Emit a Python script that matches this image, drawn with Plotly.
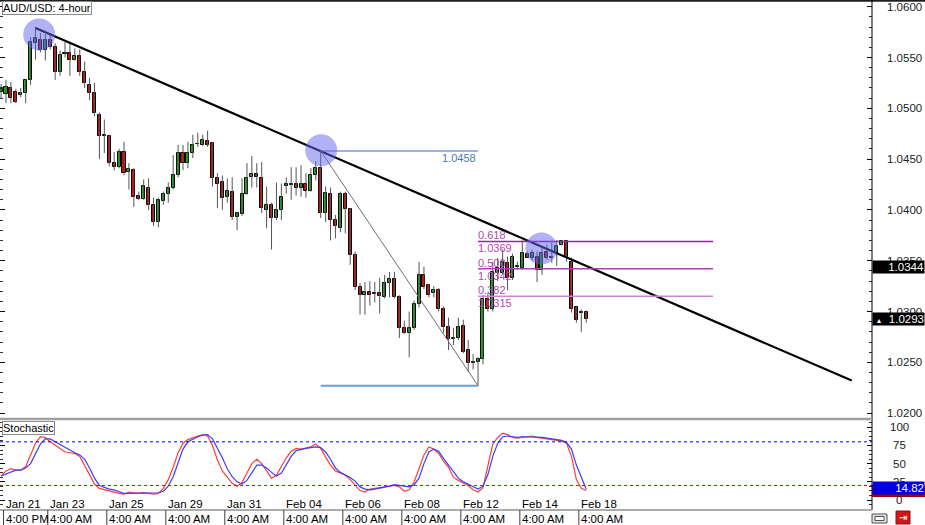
import plotly.graph_objects as go

# ---------------- data ----------------
bar_idx = list(range(-1, 119))
opens = [1.0516, 1.0514, 1.0520, 1.0516, 1.0513, 1.0515, 1.0528, 1.0564, 1.0567, 1.0557,
         1.0567, 1.0560, 1.0536, 1.0553, 1.0554, 1.0548, 1.0551, 1.0536, 1.0523, 1.0515,
         1.0493, 1.0473, 1.0473, 1.0446, 1.0442, 1.0457, 1.0437, 1.0439, 1.0414, 1.0411,
         1.0422, 1.0405, 1.0388, 1.0409, 1.0416, 1.0422, 1.0434, 1.0456, 1.0446, 1.0456,
         1.0465, 1.0464, 1.0468, 1.0466, 1.0431, 1.0427, 1.0413, 1.0418, 1.0393, 1.0396,
         1.0416, 1.0432, 1.0435, 1.0431, 1.0400, 1.0405, 1.0392, 1.0400, 1.0424, 1.0425,
         1.0426, 1.0422, 1.0426, 1.0419, 1.0434, 1.0441, 1.0397, 1.0416, 1.0390, 1.0382,
         1.0416, 1.0401, 1.0356, 1.0324, 1.0316, 1.0319, 1.0317, 1.0318, 1.0314, 1.0328,
         1.0332, 1.0314, 1.0284, 1.0279, 1.0284, 1.0307, 1.0336, 1.0326, 1.0318, 1.0321,
         1.0302, 1.0285, 1.0274, 1.0274, 1.0286, 1.0262, 1.0249, 1.0250, 1.0253, 1.0312,
         1.0302, 1.0338, 1.0338, 1.0348, 1.0333, 1.0344, 1.0343, 1.0357, 1.0353, 1.0354,
         1.0341, 1.0359, 1.0353, 1.0358, 1.0365, 1.0369, 1.0349, 1.0304, 1.0299, 1.0300]
highs = [1.0524, 1.0528, 1.0526, 1.0519, 1.0520, 1.0529, 1.0570, 1.0580, 1.0574, 1.0573,
         1.0574, 1.0564, 1.0557, 1.0565, 1.0564, 1.0559, 1.0558, 1.0546, 1.0530, 1.0525,
         1.0496, 1.0489, 1.0474, 1.0457, 1.0460, 1.0467, 1.0446, 1.0441, 1.0418, 1.0430,
         1.0431, 1.0412, 1.0412, 1.0418, 1.0427, 1.0454, 1.0464, 1.0464, 1.0467, 1.0474,
         1.0476, 1.0474, 1.0478, 1.0467, 1.0436, 1.0434, 1.0431, 1.0432, 1.0398, 1.0431,
         1.0446, 1.0453, 1.0446, 1.0447, 1.0423, 1.0407, 1.0427, 1.0426, 1.0432, 1.0442,
         1.0442, 1.0444, 1.0436, 1.0441, 1.0448, 1.0458, 1.0423, 1.0422, 1.0395, 1.0418,
         1.0418, 1.0402, 1.0359, 1.0328, 1.0329, 1.0330, 1.0329, 1.0333, 1.0336, 1.0339,
         1.0339, 1.0316, 1.0291, 1.0300, 1.0311, 1.0349, 1.0344, 1.0327, 1.0325, 1.0323,
         1.0305, 1.0294, 1.0284, 1.0294, 1.0292, 1.0272, 1.0258, 1.0255, 1.0316, 1.0318,
         1.0349, 1.0353, 1.0361, 1.0354, 1.0357, 1.0349, 1.0370, 1.0359, 1.0361, 1.0359,
         1.0363, 1.0366, 1.0368, 1.0370, 1.0370, 1.0370, 1.0353, 1.0305, 1.0302, 1.0301]
lows = [1.0510, 1.0505, 1.0505, 1.0505, 1.0511, 1.0505, 1.0523, 1.0548, 1.0555, 1.0547,
        1.0558, 1.0528, 1.0532, 1.0550, 1.0532, 1.0547, 1.0532, 1.0520, 1.0508, 1.0492,
        1.0450, 1.0456, 1.0443, 1.0439, 1.0441, 1.0434, 1.0420, 1.0403, 1.0410, 1.0410,
        1.0400, 1.0384, 1.0383, 1.0405, 1.0407, 1.0420, 1.0432, 1.0439, 1.0441, 1.0451,
        1.0462, 1.0463, 1.0462, 1.0423, 1.0402, 1.0400, 1.0407, 1.0390, 1.0380, 1.0394,
        1.0415, 1.0422, 1.0422, 1.0397, 1.0382, 1.0361, 1.0390, 1.0390, 1.0416, 1.0410,
        1.0414, 1.0413, 1.0412, 1.0418, 1.0429, 1.0392, 1.0388, 1.0370, 1.0372, 1.0378,
        1.0377, 1.0346, 1.0321, 1.0297, 1.0297, 1.0306, 1.0309, 1.0298, 1.0313, 1.0314,
        1.0313, 1.0274, 1.0278, 1.0255, 1.0282, 1.0304, 1.0322, 1.0314, 1.0314, 1.0300,
        1.0279, 1.0262, 1.0267, 1.0272, 1.0259, 1.0241, 1.0243, 1.0227, 1.0248, 1.0300,
        1.0300, 1.0330, 1.0336, 1.0321, 1.0331, 1.0341, 1.0341, 1.0353, 1.0350, 1.0329,
        1.0336, 1.0351, 1.0348, 1.0345, 1.0365, 1.0349, 1.0299, 1.0289, 1.0280, 1.0289]
closes = [1.0519, 1.0521, 1.0510, 1.0506, 1.0515, 1.0528, 1.0565, 1.0569, 1.0557, 1.0567,
          1.0560, 1.0536, 1.0552, 1.0554, 1.0548, 1.0551, 1.0536, 1.0525, 1.0515, 1.0495,
          1.0473, 1.0474, 1.0446, 1.0442, 1.0457, 1.0436, 1.0440, 1.0413, 1.0411, 1.0424,
          1.0405, 1.0388, 1.0410, 1.0416, 1.0422, 1.0434, 1.0456, 1.0446, 1.0456, 1.0464,
          1.0465, 1.0469, 1.0464, 1.0431, 1.0426, 1.0412, 1.0419, 1.0393, 1.0397, 1.0416,
          1.0431, 1.0435, 1.0432, 1.0402, 1.0405, 1.0392, 1.0400, 1.0413, 1.0426, 1.0425,
          1.0422, 1.0426, 1.0419, 1.0434, 1.0441, 1.0397, 1.0417, 1.0390, 1.0384, 1.0416,
          1.0401, 1.0356, 1.0324, 1.0316, 1.0319, 1.0316, 1.0318, 1.0315, 1.0328, 1.0332,
          1.0314, 1.0284, 1.0279, 1.0284, 1.0307, 1.0336, 1.0324, 1.0316, 1.0321, 1.0302,
          1.0285, 1.0273, 1.0273, 1.0285, 1.0260, 1.0249, 1.0250, 1.0253, 1.0312, 1.0302,
          1.0339, 1.0343, 1.0349, 1.0333, 1.0354, 1.0345, 1.0358, 1.0353, 1.0358, 1.0341,
          1.0358, 1.0353, 1.0354, 1.0364, 1.0369, 1.0354, 1.0302, 1.0292, 1.0299, 1.0293]

stoch_main = [33, 40, 43, 41, 41, 46, 62, 78, 87, 86, 80, 75, 70, 66, 65, 64, 60, 47, 33, 22,
              16, 14, 12, 10, 9, 8, 11, 10, 9, 10, 9, 8, 9, 16, 28, 45, 65, 78, 83, 86,
              88, 90, 88, 75, 55, 40, 31, 23, 19, 24, 37, 50, 56, 50, 40, 30, 34, 46, 58, 67,
              71, 70, 71, 73, 77, 71, 59, 48, 40, 37, 34, 28, 20, 13, 11, 15, 16, 17, 18, 20,
              20, 18, 12, 14, 25, 43, 62, 73, 70, 64, 53, 45, 31, 27, 23, 20, 14, 11, 17, 48,
              77, 86, 92, 90, 86, 85, 86, 88, 88, 86, 85, 85, 84, 82, 81, 78, 60, 28, 16, 13]
stoch_signal = [33, 36, 39, 41, 41, 44, 50, 63, 77, 84, 84, 80, 76, 72, 68, 65, 62, 56, 44, 30,
                20, 17, 15, 14, 11, 9, 9, 9, 9, 9, 9, 9, 10, 12, 19, 32, 52, 70, 80, 84,
                87, 89, 90, 84, 72, 58, 43, 32, 25, 22, 27, 38, 48, 48, 44, 38, 33, 37, 48, 60,
                68, 70, 71, 72, 73, 72, 66, 56, 44, 38, 35, 31, 26, 18, 15, 14, 15, 16, 17, 19,
                21, 20, 18, 18, 21, 30, 50, 66, 70, 67, 57, 48, 38, 30, 25, 22, 19, 15, 19, 35,
                60, 78, 87, 88, 87, 86, 87, 87, 87, 86, 86, 85, 84, 83, 82, 79, 70, 48, 30, 14.82]
stoch_levels = [80, 20]
stoch_ticks = [100, 75, 50, 25, 0]
price_ticks = [1.0600, 1.0550, 1.0500, 1.0450, 1.0400, 1.0350, 1.0300, 1.0250, 1.0200]

trend_x = [6, 172]
trend_y = [1.0579, 1.0232]
swing_x = [64, 96]
swing_y = [1.0458, 1.0227]
fib_ratios = [0.618, 0.500, 0.382]
fib_prices = [1.0369, 1.0342, 1.0315]
fib_end = 143.8
circle_x = [6.75, 64.1, 108.9]
circle_y = [1.05726, 1.04587, 1.03620]

label_bars = [0, 9, 21, 33, 45, 57, 69, 81, 93, 105, 117]
label_dates = ["Jan 21", "Jan 23", "Jan 25", "Jan 29", "Jan 31", "Feb 04", "Feb 06",
               "Feb 08", "Feb 12", "Feb 14", "Feb 18"]
label_times = ["4:00 PM"] + ["4:00 AM"] * 10

price_marker_1 = 1.0344
last_price = 1.0293
stoch_last = "14.82"

# ---------------- geometry helpers (layout only) ----------------
PLOT_W = 872.0
PLOT_B = 510.0
def px_x(px):
    return px / PLOT_W
def px_y(py):
    return (PLOT_B - py) / PLOT_B

FONT = "Liberation Sans, Arial, sans-serif"
GREEN = "#00c000"
RED = "#e00000"

fig = go.Figure()

# wicks
wx, wy = [], []
for i, h, l in zip(bar_idx, highs, lows):
    wx += [i, i, None]
    wy += [l, h, None]
fig.add_trace(go.Scatter(x=wx, y=wy, mode="lines", line=dict(color="#555555", width=1),
                         hoverinfo="skip"))

# bodies
bases = [min(o, c) for o, c in zip(opens, closes)]
heights = [max(abs(c - o), 0.00003) for o, c in zip(opens, closes)]
cols = [GREEN if c >= o else RED for o, c in zip(opens, closes)]
fig.add_trace(go.Bar(x=bar_idx, y=heights, base=bases, width=0.62,
                     marker=dict(color=cols, line=dict(color="black", width=1))))

# trend line, swing line
fig.add_trace(go.Scatter(x=trend_x, y=trend_y, mode="lines",
                         line=dict(color="black", width=2.2)))
fig.add_trace(go.Scatter(x=swing_x, y=swing_y, mode="lines",
                         line=dict(color="#707070", width=1)))

# stochastic
fig.add_trace(go.Scatter(x=bar_idx, y=stoch_main, mode="lines", yaxis="y2",
                         line=dict(color="rgb(255,60,60)", width=1.2)))
fig.add_trace(go.Scatter(x=bar_idx, y=stoch_signal, mode="lines", yaxis="y2",
                         line=dict(color="rgb(60,60,255)", width=1.2)))

shapes = []
shapes.append(dict(type="line", xref="x", yref="y", x0=swing_x[0], x1=swing_x[1],
                   y0=swing_y[0], y1=swing_y[0], line=dict(color="#3d6fb0", width=1.2)))
shapes.append(dict(type="line", xref="x", yref="y", x0=swing_x[0], x1=swing_x[1],
                   y0=swing_y[1], y1=swing_y[1], line=dict(color="#6a9fd0", width=2)))
fib_cols = ["#a020a0", "#b040b0", "#cc88cc"]
for fp, fc in zip(fib_prices, fib_cols):
    shapes.append(dict(type="line", xref="x", yref="y", x0=swing_x[1], x1=fib_end,
                       y0=fp, y1=fp, line=dict(color=fc, width=1.5)))
for cx, cy in zip(circle_x, circle_y):
    shapes.append(dict(type="circle", xref="x", yref="y", xsizemode="pixel",
                       ysizemode="pixel", xanchor=cx, yanchor=cy, x0=-16, x1=16,
                       y0=-16, y1=16, fillcolor="rgba(100,100,235,0.5)",
                       line=dict(width=0)))
shapes.append(dict(type="line", xref="paper", yref="y2", x0=0, x1=1, y0=stoch_levels[0],
                   y1=stoch_levels[0], line=dict(color="#0000ff", width=1, dash="dot")))
shapes.append(dict(type="line", xref="paper", yref="y2", x0=0, x1=1, y0=stoch_levels[1],
                   y1=stoch_levels[1], line=dict(color="#e00000", width=1, dash="dot")))
shapes.append(dict(type="line", xref="paper", yref="paper", x0=0, x1=925 / PLOT_W,
                   y0=px_y(0.8), y1=px_y(0.8), line=dict(color="#202020", width=2)))
shapes.append(dict(type="line", xref="paper", yref="paper", x0=1, x1=1,
                   y0=px_y(510), y1=px_y(0), line=dict(color="black", width=1)))
shapes.append(dict(type="line", xref="paper", yref="paper", x0=0, x1=1,
                   y0=px_y(419), y1=px_y(419), line=dict(color="#a0a0a0", width=2.5)))
shapes.append(dict(type="line", xref="paper", yref="paper", x0=0, x1=1,
                   y0=px_y(510), y1=px_y(510), line=dict(color="#909090", width=1.5)))
for b in label_bars:
    shapes.append(dict(type="line", xref="x", yref="paper", x0=b - 0.5, x1=b - 0.5,
                       y0=px_y(510), y1=px_y(525), line=dict(color="#404040", width=1)))
shapes.append(dict(type="rect", xref="paper", yref="paper", x0=1, x1=925 / PLOT_W,
                   y0=px_y(497), y1=px_y(485), fillcolor="#a00000", line=dict(width=0)))
shapes.append(dict(type="rect", xref="paper", yref="paper", x0=px_x(872), x1=px_x(887),
                   y0=px_y(523), y1=px_y(514), fillcolor="#e0e0e0",
                   line=dict(color="#505050", width=1)))
shapes.append(dict(type="rect", xref="paper", yref="paper", x0=px_x(875), x1=px_x(884),
                   y0=px_y(520.5), y1=px_y(516.5), fillcolor="#ffffff",
                   line=dict(color="#505050", width=1)))
shapes.append(dict(type="rect", xref="paper", yref="paper", x0=px_x(896), x1=px_x(910),
                   y0=px_y(524), y1=px_y(511), fillcolor="#d01818",
                   line=dict(color="#901010", width=1)))

ann = []
def A(**kw):
    base = dict(showarrow=False, font=dict(family=FONT, size=11, color="black"))
    base.update(kw)
    ann.append(base)

A(text="AUD/USD: 4-hour", xref="paper", yref="paper", x=px_x(2), y=px_y(1),
  xanchor="left", yanchor="top", bgcolor="white", bordercolor="#8a8a8a", borderwidth=1,
  borderpad=0)
A(text="Stochastic", xref="paper", yref="paper", x=px_x(2), y=px_y(421),
  xanchor="left", yanchor="top", bgcolor="white", bordercolor="#8a8a8a", borderwidth=1,
  borderpad=0)

A(text="%.4f" % swing_y[0], xref="x", yref="y", x=swing_x[1], y=swing_y[0],
  xanchor="right", yanchor="top", font=dict(family=FONT, size=11, color="#4a78b8"),
  yshift=1)
for r, fp in zip(fib_ratios, fib_prices):
    A(text="%.3f" % r, xref="x", yref="y", x=swing_x[1], y=fp, xanchor="left",
      yanchor="bottom", font=dict(family=FONT, size=11, color="#b048b0"), yshift=-2,
      xshift=-2)
    A(text="%.4f" % fp, xref="x", yref="y", x=swing_x[1], y=fp, xanchor="left",
      yanchor="top", font=dict(family=FONT, size=11, color="#b048b0"), yshift=1,
      xshift=-2)

# price scale labels
for v in price_ticks:
    A(text="%.4f" % v, xref="paper", yref="y", x=px_x(885), y=v, xanchor="left",
      yanchor="middle", font=dict(family=FONT, size=11.5, color="#222"))
# stochastic scale labels
for v in stoch_ticks:
    A(text=str(v), xref="paper", yref="y2", x=px_x(899), y=v, xanchor="center",
      yanchor="middle", font=dict(family=FONT, size=11.5, color="#222"))

# value boxes on the right scale
A(text="%.4f" % price_marker_1, xref="paper", yref="y", x=1, y=price_marker_1,
  xanchor="left", yanchor="middle", bgcolor="black", width=51, height=12, align="right",
  borderpad=0, font=dict(family=FONT, size=11.5, color="white"))
A(text="<span style='font-size:7px'>▲</span>  %.4f" % last_price, xref="paper", yref="y",
  x=1, y=last_price, xanchor="left", yanchor="middle", bgcolor="black", width=51,
  height=12, align="right", borderpad=0, font=dict(family=FONT, size=11.5, color="white"))
A(text=stoch_last, xref="paper", yref="paper", x=1, y=px_y(488), xanchor="left",
  yanchor="middle", bgcolor="#0000e0", width=51, height=12, align="right", borderpad=0,
  font=dict(family=FONT, size=11.5, color="white"))
A(text="⇥", xref="paper", yref="paper", x=px_x(903), y=px_y(517.5), xanchor="center",
  yanchor="middle", font=dict(family="DejaVu Sans", size=10, color="white"))

# time scale labels
for b, d, t in zip(label_bars, label_dates, label_times):
    A(text=d, xref="x", yref="paper", x=b - 0.5, y=px_y(504), xanchor="left",
      yanchor="middle", font=dict(family=FONT, size=11.5, color="black"))
    A(text=t, xref="x", yref="paper", x=b - 0.5, y=px_y(518.5), xanchor="left",
      yanchor="middle", font=dict(family=FONT, size=11.5, color="black"))

fig.update_layout(
    width=925, height=525, margin=dict(l=0, r=53, t=0, b=15),
    paper_bgcolor="white", plot_bgcolor="white", showlegend=False, bargap=0,
    hovermode=False,
    xaxis=dict(range=[-1.22, 176.12], showticklabels=False, showgrid=False,
               zeroline=False, ticks="", showline=False, fixedrange=True),
    yaxis=dict(domain=[px_y(418), 1], range=[1.01952, 1.06066], side="right",
               tickvals=price_ticks, ticks="inside", ticklen=5,
               tickcolor="black", tickwidth=1, showticklabels=False,
               minor=dict(dtick=0.001, ticks="inside", ticklen=3, tickcolor="#333"),
               mirror="ticks", showgrid=False, zeroline=False, showline=False),
    yaxis2=dict(domain=[0, px_y(420)], range=[-13.75, 110], anchor="x", side="right",
                tickvals=stoch_ticks, ticks="inside", ticklen=5, tickcolor="black",
                minor=dict(dtick=6.25, ticks="inside", ticklen=3, tickcolor="#333"),
                mirror="ticks", showticklabels=False, showgrid=False, zeroline=False,
                showline=False),
    shapes=shapes, annotations=ann,
)
fig.write_html("out.html", config={"displayModeBar": False},
               post_script="document.body.style.margin='0';document.body.style.overflow='hidden';")
